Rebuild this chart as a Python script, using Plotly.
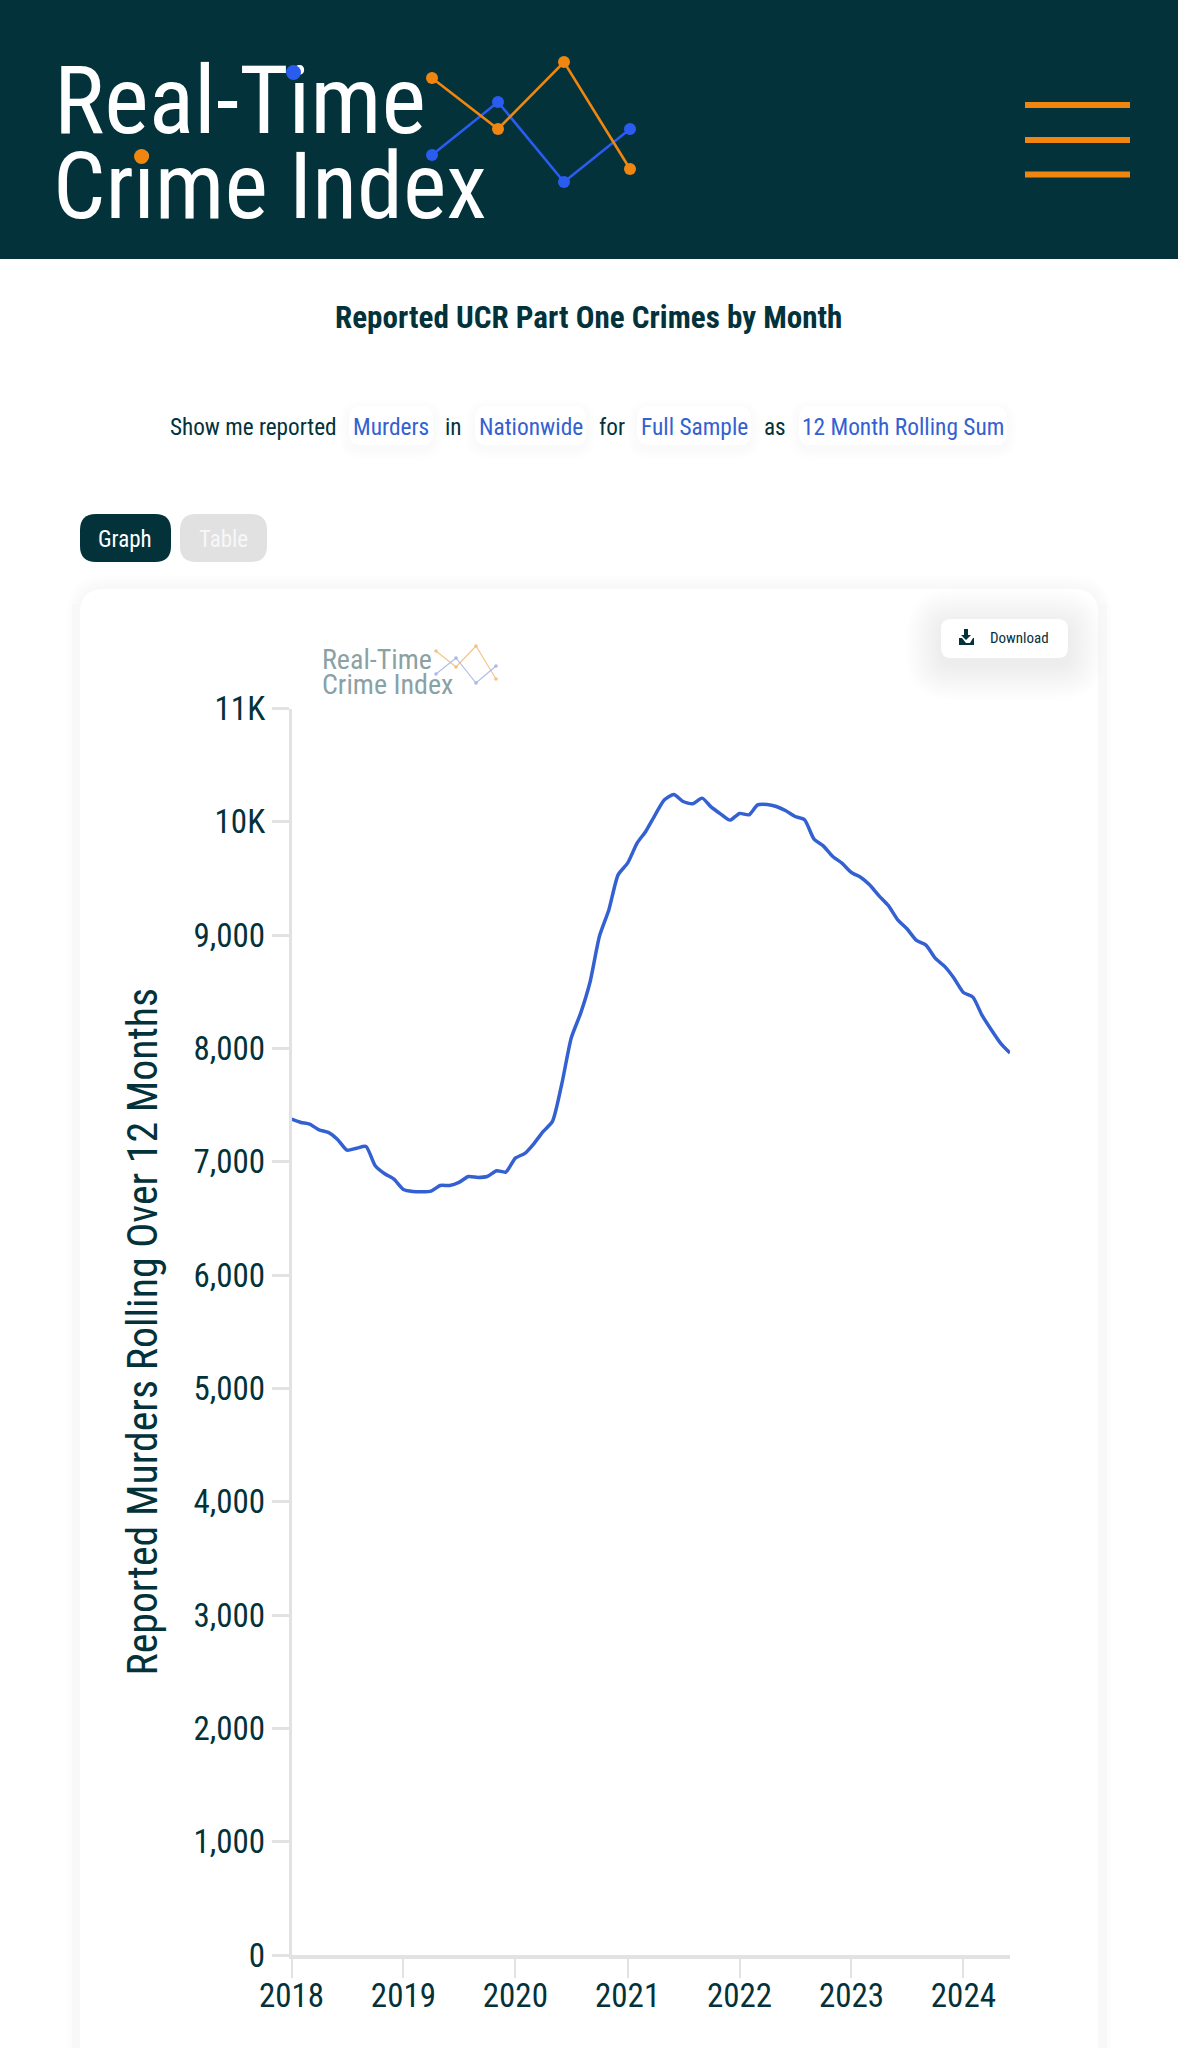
import plotly.graph_objects as go

# ---------- data ----------
months = [f"{2018 + i // 12}-{i % 12 + 1:02d}-01" for i in range(78)]
murders = [7376, 7347, 7332, 7282, 7259, 7194, 7103, 7120, 7135, 6965, 6894, 6847,
           6756, 6738, 6735, 6741, 6791, 6791, 6818, 6870, 6862, 6870, 6921, 6909,
           7032, 7074, 7159, 7268, 7356, 7694, 8091, 8312, 8591, 8988, 9224, 9532,
           9635, 9812, 9915, 10062, 10194, 10241, 10179, 10159, 10209, 10129, 10068, 10015,
           10074, 10062, 10150, 10153, 10135, 10097, 10047, 10018, 9847, 9788, 9694, 9635,
           9553, 9509, 9444, 9347, 9262, 9135, 9056, 8953, 8912, 8797, 8724, 8621,
           8494, 8453, 8297, 8165, 8047, 7959]
y_ticks = [0, 1000, 2000, 3000, 4000, 5000, 6000, 7000, 8000, 9000, 10000, 11000]
y_labels = ["0", "1,000", "2,000", "3,000", "4,000", "5,000", "6,000", "7,000", "8,000", "9,000", "10K", "11K"]
x_ticks = ["2018-01-01", "2019-01-01", "2020-01-01", "2021-01-01", "2022-01-01", "2023-01-01", "2024-01-01"]
x_labels = ["2018", "2019", "2020", "2021", "2022", "2023", "2024"]

W, H = 1178, 2048
DARK = "#03323b"
BLUE = "#3461d1"
LOGO_BLUE = "#2b5cf0"
ORANGE = "#f0860f"
GREY = "#e2e2e2"
FONT = "Roboto Condensed, DejaVu Sans Condensed, Roboto, sans-serif"


def rrect(x0, y0, x1, y1, r):
    return (f"M{x0+r},{y0} L{x1-r},{y0} Q{x1},{y0} {x1},{y0+r} L{x1},{y1-r} Q{x1},{y1} {x1-r},{y1} "
            f"L{x0+r},{y1} Q{x0},{y1} {x0},{y1-r} L{x0},{y0+r} Q{x0},{y0} {x0+r},{y0} Z")


shapes = []


def add_rr(x0, y0, x1, y1, r, fill, layer="below"):
    shapes.append(dict(type="path", xref="x", yref="y", path=rrect(x0, y0, x1, y1, r),
                       fillcolor=fill, line=dict(width=0), layer=layer))


def add_shadow(x0, y0, x1, y1, r, spread, dy, alpha):
    for k in range(spread, 0, -2):
        add_rr(x0 - k, y0 - k + dy, x1 + k, y1 + k + dy, r + k, f"rgba(0,0,0,{alpha})")


def add_poly(points, color, width, opacity=1.0, dot=6):
    d = "M" + " L".join(f"{x},{y}" for x, y in points)
    shapes.append(dict(type="path", xref="x", yref="y", path=d, line=dict(color=color, width=width),
                       opacity=opacity, layer="above"))
    for x, y in points:
        add_dot(x, y, dot, color, opacity)


def add_dot(x, y, r, color, opacity=1.0):
    shapes.append(dict(type="circle", xref="x", yref="y", x0=x - r, x1=x + r, y0=y - r, y1=y + r,
                       fillcolor=color, line=dict(width=0), opacity=opacity, layer="above"))


annotations = []


def text(x, y, s, size, color, anchor="center", bold=False, opacity=1.0):
    if bold:
        s = f"<b>{s}</b>"
    annotations.append(dict(xref="x", yref="y", x=x, y=y, text=s, showarrow=False, xanchor=anchor,
                            yanchor="middle", opacity=opacity, font=dict(family=FONT, size=size, color=color)))


# header
shapes.append(dict(type="rect", xref="x", yref="y", x0=0, x1=W, y0=0, y1=259, fillcolor=DARK,
                   line=dict(width=0), layer="below"))
for yy in (105, 140, 174.5):
    shapes.append(dict(type="rect", xref="x", yref="y", x0=1025, x1=1130, y0=yy - 3, y1=yy + 3,
                       fillcolor=ORANGE, line=dict(width=0), layer="below"))
add_poly([(432, 155), (498, 102), (564, 182), (630, 129)], LOGO_BLUE, 2.6)
add_poly([(432, 78), (498, 129), (564, 62), (630, 169)], ORANGE, 2.6)
add_dot(293.5, 72.5, 7.5, LOGO_BLUE)
add_dot(141.5, 156.5, 7.5, ORANGE)

# title and selector row
text(588.5, 317.5, "Reported UCR Part One Crimes by Month", 31.1, DARK, bold=True)
text(253, 427, "Show me reported", 23.2, DARK)
text(453, 427, "in", 23.2, DARK)
text(611.5, 427, "for", 23.2, DARK)
text(775, 427, "as", 23.2, DARK)
for x0, x1, label in [(349, 433, "Murders"), (475, 586, "Nationwide"), (637, 751, "Full Sample"),
                      (799, 1007, "12 Month Rolling Sum")]:
    add_shadow(x0, 406, x1, 445, 12, 10, 4, 0.004)
    add_rr(x0, 406, x1, 445, 12, "#ffffff")
    text((x0 + x1) / 2, 426.5, label, 23.4, BLUE)

# graph / table toggle
add_rr(80, 514, 171, 562, 16, DARK)
text(125, 539, "Graph", 23, "#ffffff")
add_rr(180, 514, 267, 562, 16, "#e1e1e1")
text(223, 539, "Table", 23, "#f7f7f7")

# card
add_shadow(80, 589, 1098, 2200, 24, 14, 0, 0.004)
add_rr(72, 604, 1107, 2200, 0, "#f8f8f8")
add_rr(80, 589, 1098, 2200, 24, "#ffffff")

# download button
add_shadow(942, 619, 1068, 658, 10, 36, 6, 0.0025)
add_rr(941, 619, 1068, 658, 10, "#ffffff")
shapes.append(dict(type="path", xref="x", yref="y", layer="above", fillcolor=DARK, line=dict(width=0),
                   path="M964,629 L968,629 L968,635 L971,635 L966,640 L961,635 L964,635 Z "
                        "M959,638 L962,638 L966,643 L970,643 L973,638 L974,638 L974,645 L959,645 Z"))
text(1019.5, 638, "Download", 15, DARK)

# small watermark logo
text(320, 659, "Real-Time", 28, "#8aa1a5", anchor="left")
text(320, 684, "Crime Index", 28, "#8aa1a5", anchor="left")
add_poly([(436, 651), (456, 667), (476, 646), (496, 679)], "#f1be7a", 1.1, 0.9, 1.8)
add_poly([(436, 674), (456, 658), (476, 683), (496, 666)], "#a4b4e4", 1.1, 0.9, 1.8)

# y axis title
annotations.append(dict(xref="x", yref="y", x=142, y=1331.5, text="Reported Murders Rolling Over 12 Months",
                        textangle=-90, showarrow=False, xanchor="center", yanchor="middle",
                        font=dict(family=FONT, size=41.8, color=DARK)))

fig = go.Figure()
# big logo as text trace, so the coloured dots can sit on top of it
fig.add_trace(go.Scatter(x=[54, 53], y=[109, 195], text=["Real-Time", "Crime Index"], mode="text",
                         textposition="middle right", xaxis="x", yaxis="y", hoverinfo="skip",
                         textfont=dict(family=FONT, size=[94.7, 92.5], color="#ffffff"), showlegend=False))
fig.add_trace(go.Scatter(x=months, y=murders, mode="lines", xaxis="x2", yaxis="y2",
                         line=dict(color=BLUE, width=3.5, shape="spline", smoothing=0.6),
                         showlegend=False, hoverinfo="skip"))

fig.update_layout(
    template="none",
    width=W, height=H, margin=dict(l=0, r=0, t=0, b=0, pad=0), paper_bgcolor="#ffffff", plot_bgcolor="rgba(0,0,0,0)",
    shapes=shapes, annotations=annotations, showlegend=False,
    xaxis=dict(domain=[0, 1], range=[0, W], visible=False, fixedrange=True, automargin=False),
    yaxis=dict(domain=[0, 1], range=[H, 0], visible=False, fixedrange=True, automargin=False),
    xaxis2=dict(domain=[291.5 / W, 1010 / W], anchor="y2", type="date", range=["2018-01-01", "2024-06-01"],
                tickvals=x_ticks, ticktext=x_labels, ticks="outside", ticklen=19, tickwidth=2, tickcolor=GREY,
                showline=True, linecolor=GREY, linewidth=4, showgrid=False, zeroline=False, automargin=False,
                tickfont=dict(family=FONT, size=33, color=DARK), tickangle=0, ticklabelstandoff=-11),
    yaxis2=dict(domain=[1 - 1955 / H, 1 - 708.5 / H], anchor="x2", range=[0, 11000],
                tickvals=y_ticks, ticktext=y_labels, ticks="outside", ticklen=17, tickwidth=2.5, tickcolor=GREY,
                showline=True, linecolor=GREY, linewidth=2.5, showgrid=False, zeroline=False, automargin=False,
                tickfont=dict(family=FONT, size=33, color=DARK)),
)
fig.write_html("out.html", config=dict(displayModeBar=False),
               post_script="document.body.style.margin='0';document.documentElement.style.overflow='hidden';")
